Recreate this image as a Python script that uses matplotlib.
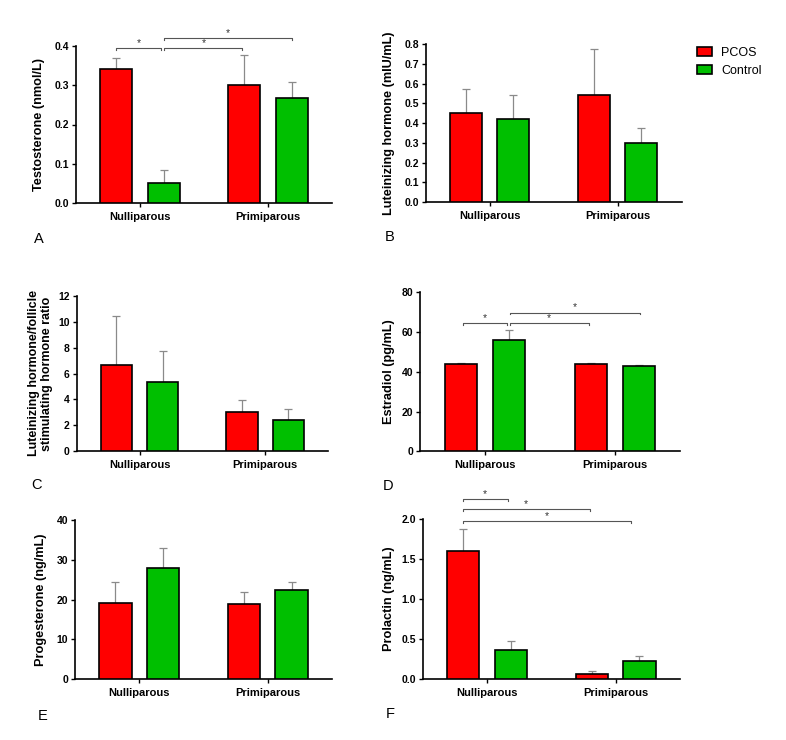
import numpy as np
import matplotlib
matplotlib.use('Agg')
import matplotlib.pyplot as plt
from matplotlib.patches import Patch

plt.rcParams['font.family'] = ['Liberation Sans', 'DejaVu Sans']

W, H = 786, 740

groups = ['Nulliparous', 'Primiparous']

# values (mean, upper error)
testo_pcos = [0.341, 0.300]
testo_pcos_err = [0.029, 0.076]
testo_ctrl = [0.052, 0.266]
testo_ctrl_err = [0.032, 0.043]

lh_pcos = [0.452, 0.541]
lh_pcos_err = [0.121, 0.234]
lh_ctrl = [0.423, 0.299]
lh_ctrl_err = [0.118, 0.076]

ratio_pcos = [6.63, 3.05]
ratio_pcos_err = [3.80, 0.92]
ratio_ctrl = [5.32, 2.43]
ratio_ctrl_err = [2.42, 0.80]

estr_pcos = [43.8, 43.8]
estr_pcos_err = [0.8, 0.8]
estr_ctrl = [56.0, 43.1]
estr_ctrl_err = [4.9, 0.5]

prog_pcos = [19.1, 18.8]
prog_pcos_err = [5.3, 3.0]
prog_ctrl = [28.0, 22.4]
prog_ctrl_err = [4.9, 2.1]

prl_pcos = [1.60, 0.058]
prl_pcos_err = [0.28, 0.034]
prl_ctrl = [0.363, 0.225]
prl_ctrl_err = [0.113, 0.055]

# significance brackets: (x start, x end, height)
testo_sig = [(-0.185, 0.164, 0.395), (0.19, 0.80, 0.395), (0.19, 1.19, 0.420)]
estr_sig = [(-0.17, 0.167, 64.7), (0.19, 0.80, 64.7), (0.19, 1.19, 69.8)]
prl_sig = [(-0.19, 0.16, 2.246), (-0.19, 0.80, 2.121), (-0.19, 1.12, 1.971)]

RED = '#ff0000'
GREEN = '#00bf00'


def rect(x0, x1, ytop, ybot):
    return [x0 / W, 1 - ybot / H, (x1 - x0) / W, (ybot - ytop) / H]


def panel(fig, r, pcos, pcos_err, ctrl, ctrl_err, ylab, yticks, fmt, lab_x, sig=None,
          lab_size=9.2, lab_spacing=1.0):
    ax = fig.add_axes(rect(*r))
    x = np.arange(len(groups))
    off, bw = 0.185, 0.25
    ax.bar(x - off, pcos, bw, color=RED, edgecolor='black', linewidth=1.2, zorder=3)
    ax.bar(x + off, ctrl, bw, color=GREEN, edgecolor='black', linewidth=1.2, zorder=3)
    for xs, v, e in [(x - off, pcos, pcos_err), (x + off, ctrl, ctrl_err)]:
        ax.errorbar(xs, v, yerr=[np.zeros(len(v)), e], fmt='none', ecolor='#8a8a8a',
                    elinewidth=0.9, capsize=3.2, capthick=0.9, zorder=2)
    ax.set_xlim(-0.5, 1.5)
    ax.set_ylim(0, yticks[-1])
    ax.set_yticks(yticks)
    ax.set_yticklabels([fmt % t for t in yticks])
    ax.set_xticks(x)
    ax.set_xticklabels(groups, fontsize=8, fontweight='bold')
    for t in ax.get_yticklabels():
        t.set_fontweight('bold')
        t.set_fontsize(7.5)
    for s in ['top', 'right']:
        ax.spines[s].set_visible(False)
    for s in ['left', 'bottom']:
        ax.spines[s].set_linewidth(1.2)
    ax.tick_params(direction='out', length=3, width=1, pad=2)
    ax.tick_params(axis='x', pad=3.5)
    ax.set_ylabel(ylab, fontsize=lab_size, fontweight='bold', linespacing=lab_spacing)
    ax.yaxis.set_label_coords(lab_x, 0.5)
    if sig:
        tick = 0.012 * yticks[-1]
        for x0, x1, y in sig:
            ax.plot([x0, x0, x1, x1], [y - tick, y, y, y - tick], color='#555555',
                    lw=0.8, clip_on=False)
            ax.text((x0 + x1) / 2, y, '*', ha='center', va='bottom', fontsize=7.5,
                    color='#333333', clip_on=False)
    return ax


fig = plt.figure(figsize=(W / 100, H / 100), dpi=100)

panel(fig, (76, 332, 45.7, 203.3), testo_pcos, testo_pcos_err, testo_ctrl, testo_ctrl_err,
      'Testosterone (nmol/L)', np.arange(0, 0.41, 0.1), '%.1f', -0.12, testo_sig)
panel(fig, (425.7, 681.7, 44.3, 202), lh_pcos, lh_pcos_err, lh_ctrl, lh_ctrl_err,
      'Luteinizing hormone (mIU/mL)', np.arange(0, 0.81, 0.1), '%.1f', -0.12)
panel(fig, (76.7, 328, 296, 451), ratio_pcos, ratio_pcos_err, ratio_ctrl, ratio_ctrl_err,
      'Luteinizing hormone/follicle\nstimulating hormone ratio', np.arange(0, 13, 2), '%d', -0.094,
      lab_size=9, lab_spacing=1.1)
panel(fig, (420, 680, 292.3, 451.3), estr_pcos, estr_pcos_err, estr_ctrl, estr_ctrl_err,
      'Estradiol (pg/mL)', np.arange(0, 81, 20), '%d', -0.096, estr_sig)
panel(fig, (75, 332, 520, 679.3), prog_pcos, prog_pcos_err, prog_ctrl, prog_ctrl_err,
      'Progesterone (ng/mL)', np.arange(0, 41, 10), '%d', -0.11)
panel(fig, (422.7, 680, 519, 678.7), prl_pcos, prl_pcos_err, prl_ctrl, prl_ctrl_err,
      'Prolactin (ng/mL)', np.arange(0, 2.01, 0.5), '%.1f', -0.108, prl_sig)

# panel letters
for letter, px, py in [('A', 39, 239), ('B', 390, 237), ('C', 37, 485),
                       ('D', 388, 486), ('E', 43, 716), ('F', 390, 714)]:
    fig.text(px / W, 1 - py / H, letter, ha='center', va='center', fontsize=10.5)

handles = [Patch(facecolor=RED, edgecolor='black', linewidth=1.2, label='PCOS'),
           Patch(facecolor=GREEN, edgecolor='black', linewidth=1.2, label='Control')]
fig.legend(handles=handles, loc='upper left', bbox_to_anchor=(696.7 / W, 1 - 47 / H),
           frameon=False, fontsize=9, handlelength=1.25, handleheight=0.75,
           handletextpad=0.7, labelspacing=0.45, borderpad=0, borderaxespad=0)

fig.savefig('out.png', dpi=100)
